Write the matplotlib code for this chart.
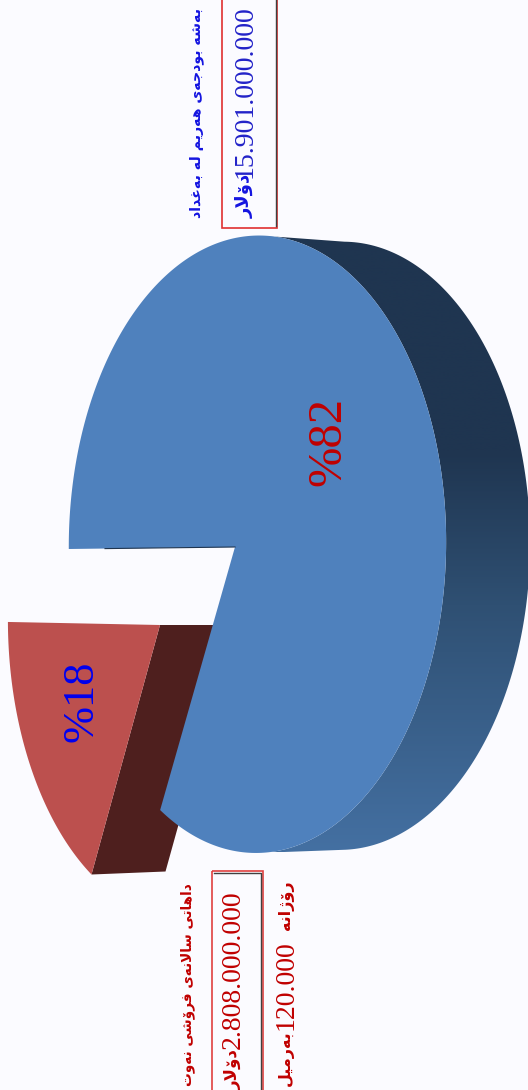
#%%
import numpy as np
import matplotlib
matplotlib.use('Agg')
from matplotlib import pyplot as plt
from matplotlib.patches import Polygon, Rectangle
from matplotlib.colors import LinearSegmentedColormap

#%%
shareLabels = ['%82', '%18']
shares = [82, 18]

titleTop = 'بەشە بودجەی هەرێم لە بەغداد'
amountTop = '15.901.000.000'
titleBottom = 'داهاتی ساڵانەی فرۆشی نەوت'
amountBottom = '2.808.000.000'
dollarWord = 'دۆلار'
dailyWord = 'ڕۆژانە'
dailyAmount = '120.000'
barrelWord = 'بەرمیل'

# Formes de presentation (isole, final, initial, median)
forms = {
    'ب': 'ﺏﺐﺑﺒ', 'ت': 'ﺕﺖﺗﺘ', 'ج': 'ﺝﺞﺟﺠ', 'س': 'ﺱﺲﺳﺴ', 'ش': 'ﺵﺶﺷﺸ',
    'غ': 'ﻍﻎﻏﻐ', 'ف': 'ﻑﻒﻓﻔ', 'ل': 'ﻝﻞﻟﻠ', 'م': 'ﻡﻢﻣﻤ', 'ن': 'ﻥﻦﻧﻨ',
    'ه': 'ﻩﻪﻫﻬ', 'ی': 'ﯼﯽﯾﯿ', 'ێ': 'ێێﯾﯿ', 'ڵ': 'ﻝﻞﻟﻠ',
    'ا': 'ﺍﺎﺍﺎ', 'د': 'ﺩﺪﺩﺪ', 'ر': 'ﺭﺮﺭﺮ', 'ڕ': 'ﺭﺮﺭﺮ', 'ژ': 'ﮊﮋﮊﮋ',
    'و': 'ﻭﻮﻭﻮ', 'ۆ': 'ﯙﯚﯙﯚ', 'ە': 'ﻩﻪﻩﻪ',
}
rightOnly = 'ادرڕژوۆە'

def shape(word):
    out = []
    for i, c in enumerate(word):
        prevJoin = i > 0 and word[i-1] in forms and word[i-1] not in rightOnly
        nextJoin = i < len(word)-1 and word[i+1] in forms and c not in rightOnly
        if c not in forms:
            out.append(c)
        elif prevJoin and nextJoin:
            out.append(forms[c][3])
        elif prevJoin:
            out.append(forms[c][1])
        elif nextJoin:
            out.append(forms[c][2])
        else:
            out.append(forms[c][0])
    s = ''.join(out)
    s = s.replace('ﻟﺎ', 'ﻻ').replace('ﻠﺎ', 'ﻼ')
    return s[::-1]

#%%
W, H = 528, 1090
bg = '#FBFBFF'
plt.rcParams['font.family'] = ['DejaVu Sans']
fig = plt.figure(figsize=(W/100, H/100), dpi=100, facecolor=bg)
ax = fig.add_axes([0, 0, 1, 1])
ax.set_xlim(0, W)
ax.set_ylim(H, 0)
ax.axis('off')

# disque en perspective
apexX, apexY = 235, 547
radA, radB = 186, 306.5
kx, ky = -0.119, 0.008
depthBlue = 84
depthRed = 74
redOffset = (-75, 78)

def disc(theta, sx=1.0, sy=1.0, cx=apexX, cy=apexY, tilt=-0.012):
    w = 1 + kx*np.cos(theta) + ky*np.sin(theta)
    x = sx*radA*np.cos(theta)/w
    y = sy*radB*np.sin(theta)/w + tilt*x
    return np.column_stack([cx + x, cy + y])

redSpan = 2*np.pi*shares[1]/sum(shares)
redStart = np.pi
redEnd = np.pi - redSpan
thetaBlue = np.linspace(redEnd, redEnd - 2*np.pi*shares[0]/sum(shares), 400)

# cote bleu avec degrade
sweep = thetaBlue[(thetaBlue < np.radians(83)) & (thetaBlue > np.radians(-83))]
topArc = disc(sweep)
botArc = disc(sweep, sy=0.985, cx=apexX+depthBlue, cy=apexY+1.5)
sidePoly = Polygon(np.vstack([topArc, botArc[::-1]]), closed=True, transform=ax.transData, fc='none', ec='none')
ax.add_patch(sidePoly)
cmap = LinearSegmentedColormap.from_list('side', [(0, '#1F3550'), (0.35, '#1F3550'), (0.6, '#2F5073'), (1, '#4470A2')])
im = ax.imshow(np.linspace(0, 1, 256).reshape(-1, 1), cmap=cmap, aspect='auto', extent=(0, W, 852, 236), zorder=1)
im.set_clip_path(sidePoly)
ax.set_xlim(0, W)
ax.set_ylim(H, 0)

# part rouge detachee
rcx, rcy = apexX + redOffset[0], apexY + redOffset[1]
thetaRed = np.linspace(redStart, redEnd, 120)
redArc = disc(thetaRed, 0.915, 0.957, rcx, rcy, tilt=0.02)
redOuter = redArc[-1]
ax.add_patch(Polygon([(rcx, rcy), tuple(redOuter), (redOuter[0]+depthRed, redOuter[1]-3), (rcx+depthRed, rcy)], closed=True, fc='#4E1F1E', ec='none', zorder=2))
ax.add_patch(Polygon(np.vstack([[(rcx, rcy)], redArc]), closed=True, fc='#BC504E', ec='none', zorder=3))

# face bleue
bluePts = np.vstack([[(apexX, apexY)], disc(thetaBlue)])
ax.add_patch(Polygon(bluePts, closed=True, fc='#4F81BD', ec='none', zorder=4))
ax.plot([apexX, apexX-130], [apexY, apexY+1.6], color='#1F3550', lw=0.8, zorder=5)

ax.text(328, 442, shareLabels[0], rotation=90, color='#C00000', fontsize=35, family='Liberation Serif', ha='center', va='center', zorder=6)
ax.text(82, 701, shareLabels[1], rotation=90, color='#0000F0', fontsize=32, family='Liberation Serif', ha='center', va='center', zorder=6)

# cadres
ax.add_patch(Rectangle((222, -5), 55, 233, fc='none', ec='#E03030', lw=1.2, zorder=6))
ax.plot([276, 276], [-5, 226], color='#404040', lw=1, zorder=6)
ax.add_patch(Rectangle((212, 871), 51, 230, fc='none', ec='#E04040', lw=1.2, zorder=6))
ax.plot([261, 261, 214], [1095, 873, 873], color='#404040', lw=1, zorder=6)

def arabic(x, y, word, color, size=10.5):
    ax.text(x, y, ' '.join(shape(w) for w in word.split()[::-1]), rotation=90, rotation_mode='anchor', color=color, fontsize=size,
            weight='bold', ha='right', va='center', zorder=7)

def number(x, y, s, color):
    ax.text(x, y, s, rotation=90, color=color, fontsize=20, family='Liberation Serif', ha='center', va='top', zorder=7)

blue = '#1414E0'
red = '#C00000'
arabic(197, 8, titleTop, blue, size=10.2)
arabic(245, 174, dollarWord, blue, size=13)
number(245, 5, amountTop, '#2222C8')
arabic(188, 883, titleBottom, red, size=9.8)
arabic(233, 1049, dollarWord, red, size=12)
number(233, 890, amountBottom, red)
arabic(286, 880, dailyWord, red, size=11.5)
number(286, 940, dailyAmount, red)
arabic(286, 1030, barrelWord, red, size=11.5)

plt.savefig('out.png', dpi=100, facecolor=bg)
